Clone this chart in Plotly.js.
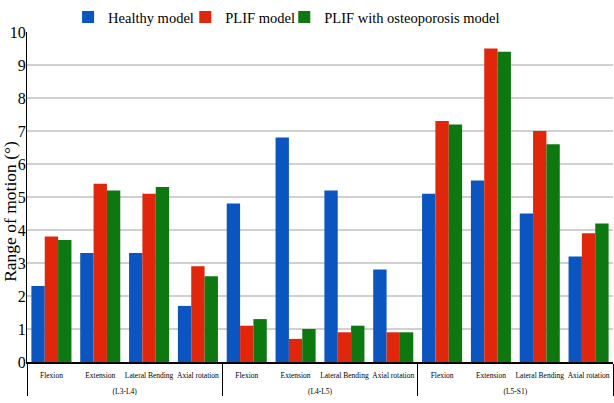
<!DOCTYPE html>
<html>
<head>
<meta charset="utf-8">
<script src="https://cdn.plot.ly/plotly-3.0.1.min.js"></script>
<style>
  html, body { margin: 0; padding: 0; background: #fff; }
  #chart { width: 614px; height: 403px; }
</style>
</head>
<body>
<div id="chart"></div>
<script>
// segment labels sit one line lower than the motion labels (leading <br>)
const SEGMENTS = ["<br>(L3-L4)", "<br>(L4-L5)", "<br>(L5-S1)"];
const MOTIONS = ["Flexion", "Extension", "Lateral Bending", "Axial rotation"];

// one value per motion, segment by segment
const healthy = [2.3, 3.3, 3.3, 1.7, 4.8, 6.8, 5.2, 2.8, 5.1, 5.5, 4.5, 3.2];
const plif = [3.8, 5.4, 5.1, 2.9, 1.1, 0.7, 0.9, 0.9, 7.3, 9.5, 7.0, 3.9];
const plifOsteo = [3.7, 5.2, 5.3, 2.6, 1.3, 1.0, 1.1, 0.9, 7.2, 9.4, 6.6, 4.2];

const SERIES = [
  { name: "Healthy model", values: healthy, color: "#0b55c0", legend: "legend", lx: 0.0701 },
  { name: "PLIF model", values: plif, color: "#e0260b", legend: "legend2", lx: 0.2701 },
  { name: "PLIF with osteoporosis model", values: plifOsteo, color: "#0c780f", legend: "legend3", lx: 0.439 }
];

const outer = [];
const inner = [];
SEGMENTS.forEach(seg => {
  MOTIONS.forEach(m => {
    outer.push(seg);
    inner.push(m);
  });
});

const traces = SERIES.map(s => ({
  type: "bar",
  name: s.name,
  legend: s.legend,
  x: [outer, inner],
  y: s.values,
  marker: { color: s.color },
  hovertemplate: "%{y}<extra>" + s.name + "</extra>"
}));

const SERIF = "Liberation Serif, Times New Roman, serif";

const layout = {
  width: 614,
  height: 403,
  paper_bgcolor: "#ffffff",
  plot_bgcolor: "#ffffff",
  font: { family: SERIF, color: "#000" },
  margin: { l: 27, r: 1, t: 27, b: 41 },
  barmode: "group",
  bargap: 0.18,
  bargroupgap: 0,
  showlegend: true,
  xaxis: {
    type: "multicategory",
    showdividers: true,
    dividercolor: "#000",
    dividerwidth: 1,
    tickangle: 0,
    ticks: "",
    ticklabelstandoff: 5,
    tickfont: { family: SERIF, size: 7.5, color: "#000" },
    showline: true,
    linecolor: "#000",
    linewidth: 1.5,
    showgrid: false,
    zeroline: false
  },
  yaxis: {
    range: [0, 10],
    dtick: 1,
    ticks: "",
    ticklabelstandoff: -3,
    tickfont: { family: SERIF, size: 16, color: "#000" },
    showline: true,
    linecolor: "#000",
    linewidth: 1,
    showgrid: true,
    gridcolor: "#d0d0d0",
    gridwidth: 1.5,
    zeroline: false
  },
  annotations: [{
    text: "Range of motion (°)",
    xref: "paper",
    yref: "paper",
    x: -0.029,
    y: 0.455,
    xanchor: "center",
    yanchor: "middle",
    textangle: -90,
    borderpad: 0,
    showarrow: false,
    font: { family: SERIF, size: 17.5, color: "#000" }
  }]
};

SERIES.forEach(s => {
  layout[s.legend] = {
    orientation: "h",
    x: s.lx,
    xanchor: "left",
    y: 1.045,
    yanchor: "middle",
    font: { family: SERIF, size: 14.5, color: "#000" },
    bgcolor: "rgba(0,0,0,0)"
  };
});

Plotly.newPlot("chart", traces, layout, { displayModeBar: false, responsive: false });
</script>
</body>
</html>
